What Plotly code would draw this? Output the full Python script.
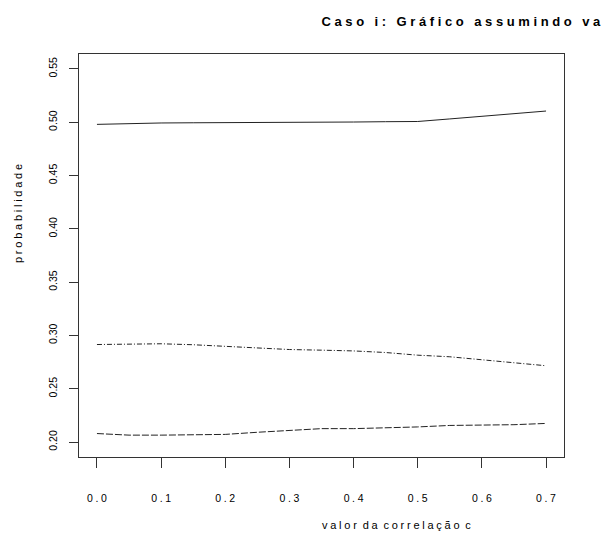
import plotly.graph_objects as go

# Data
correlacao = [0.00, 0.05, 0.10, 0.15, 0.20, 0.25, 0.30, 0.35, 0.40, 0.45, 0.50, 0.55, 0.60, 0.65, 0.70]
serie_solida = [0.4980, 0.4988, 0.4993, 0.4995, 0.4995, 0.4996, 0.4997, 0.4999, 0.5002, 0.5005, 0.5007, 0.5031, 0.5055, 0.5080, 0.5105]
serie_traco_ponto = [0.2915, 0.2918, 0.2922, 0.2913, 0.2900, 0.2880, 0.2868, 0.2862, 0.2855, 0.2840, 0.2815, 0.2800, 0.2772, 0.2742, 0.2716]
serie_tracejada = [0.2080, 0.2065, 0.2065, 0.2065, 0.2072, 0.2092, 0.2112, 0.2126, 0.2126, 0.2132, 0.2142, 0.2156, 0.2160, 0.2163, 0.2175]

x_ticks = [0.0, 0.1, 0.2, 0.3, 0.4, 0.5, 0.6, 0.7]
x_ticklabels = ["0.0", "0.1", "0.2", "0.3", "0.4", "0.5", "0.6", "0.7"]
y_ticks = [0.20, 0.25, 0.30, 0.35, 0.40, 0.45, 0.50, 0.55]
y_ticklabels = ["0.20", "0.25", "0.30", "0.35", "0.40", "0.45", "0.50", "0.55"]

# visible part of the title (the reference is cut at the right edge)
titulo = "Caso i: Gráfico assumindo va"
titulo_x = "valor da correlação c"
titulo_y = "probabilidade"

FONT = "Liberation Sans, Arial, sans-serif"


def espacar(texto, sep="\u2005", word=" \u2005"):
    palavras = texto.split(" ")
    return word.join(sep.join(list(p)) for p in palavras)


fig = go.Figure()
line_col = "#222222"
fig.add_trace(go.Scatter(x=correlacao, y=serie_solida, mode="lines",
                         line=dict(color=line_col, width=1), showlegend=False))
fig.add_trace(go.Scatter(x=correlacao, y=serie_traco_ponto, mode="lines",
                         line=dict(color=line_col, width=1, dash="5px,2px,1px,2px"), showlegend=False))
fig.add_trace(go.Scatter(x=correlacao, y=serie_tracejada, mode="lines",
                         line=dict(color=line_col, width=1, dash="7px,2px"), showlegend=False))

fig.update_layout(
    width=606, height=534,
    margin=dict(l=79, r=42, t=54, b=77, pad=0),
    paper_bgcolor="white", plot_bgcolor="white",
    font=dict(family=FONT, size=10.5, color="black"),
    showlegend=False,
    title=dict(text="<b>" + espacar(titulo, sep=" ", word=" \u2005 ") + "</b>",
               x=321.5 / 606, xanchor="left", xref="container",
               y=1 - 21 / 534, yanchor="middle", yref="container",
               font=dict(family=FONT, size=13, color="black")),
)

fig.update_xaxes(
    range=[-0.028, 0.728], showgrid=False, zeroline=False,
    showline=True, mirror=True, linecolor="#333333", linewidth=1,
    ticks="outside", ticklen=10, tickwidth=1, tickcolor="#333333",
    tickvals=x_ticks, ticktext=["\u2005".join(list(t)) for t in x_ticklabels],
    tickfont=dict(family=FONT, size=10.5, color="black"),
    ticklabelstandoff=21,
)
fig.update_yaxes(
    range=[0.186, 0.564], showgrid=False, zeroline=False,
    showline=True, mirror=True, linecolor="#333333", linewidth=1,
    ticks="outside", ticklen=9, tickwidth=1, tickcolor="#333333",
    tickvals=y_ticks, ticktext=y_ticklabels, tickangle=-90,
    tickfont=dict(family=FONT, size=10.5, color="black"),
    ticklabelstandoff=8,
)

fig.add_annotation(text=espacar(titulo_x), xref="paper", yref="paper",
                   x=(396 - 79) / 485, y=(457 - 525) / 403,
                   xanchor="center", yanchor="middle", showarrow=False,
                   font=dict(family=FONT, size=11, color="black"))
fig.add_annotation(text=espacar(titulo_y), xref="paper", yref="paper",
                   x=(18 - 79) / 485, y=(457 - 214) / 403, textangle=-90,
                   xanchor="center", yanchor="middle", showarrow=False,
                   font=dict(family=FONT, size=11, color="black"))

fig.write_html("out.html")
